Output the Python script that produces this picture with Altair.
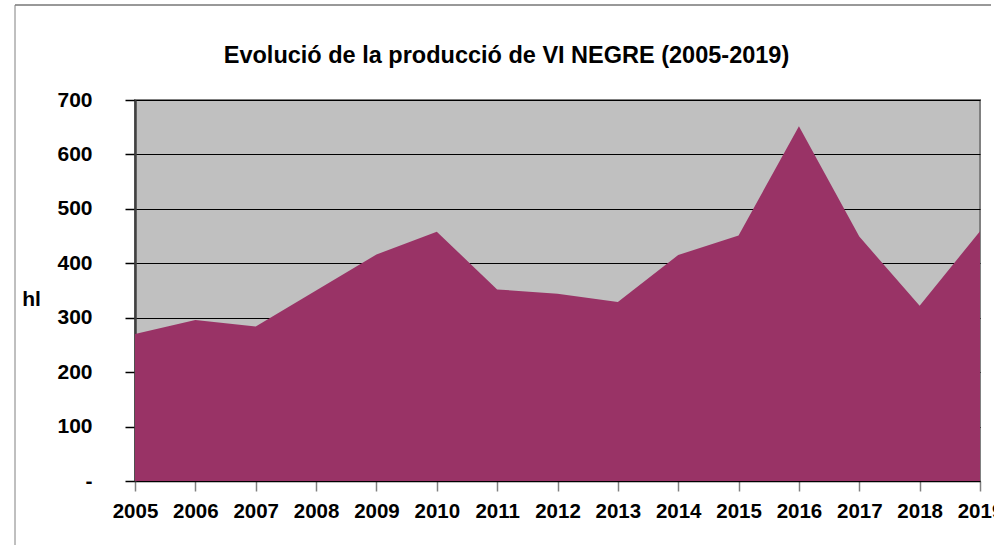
import altair as alt
import pandas as pd

years = list(range(2005, 2020))
hl = [270, 296, 284, 350, 416, 458, 352, 344, 329, 415, 451, 652, 449, 322, 459]
y_ticks = [0, 100, 200, 300, 400, 500, 600, 700]
title_text = "Evolució de la producció de VI NEGRE (2005-2019)"

df = pd.DataFrame({"any": years, "hl": hl})
one = alt.Data(values=[{"t": title_text}])

FONT = "Liberation Sans"

area = alt.Chart(df).mark_area(color="#993366", opacity=1).encode(
    x=alt.X(
        "any:Q",
        scale=alt.Scale(domain=[2005, 2019], nice=False, zero=False),
        axis=alt.Axis(
            values=years, format="d", title=None, grid=False,
            labelFont=FONT, labelFontSize=20.5, labelFontWeight="bold", labelColor="black",
            tickColor="#808080", tickSize=10, tickWidth=1.5,
            domainColor="black", domainWidth=1.5, labelPadding=10,
            labelFlush=False, labelOverlap=False,
        ),
    ),
    y=alt.Y(
        "hl:Q",
        scale=alt.Scale(domain=[0, 700], nice=False),
        axis=alt.Axis(
            values=y_ticks, title="hl", titleAngle=0,
            titleFont=FONT, titleFontSize=21, titleFontWeight="bold", titleColor="black",
            titleX=-104, titleY=199, titleAlign="center", titleBaseline="middle",
            labelExpr="datum.value == 0 ? '-' : datum.label",
            labelFont=FONT, labelFontSize=21, labelFontWeight="bold", labelColor="black",
            labelPadding=33, tickColor="black", tickSize=10, tickWidth=1.5,
            grid=True, gridColor="black", gridWidth=1.2,
            domainColor="#404040", domainWidth=2.5,
        ),
    ),
)

title = alt.Chart(one).mark_text(
    font=FONT, fontSize=23.5, fontWeight="bold", color="black",
    align="center", baseline="alphabetic",
).encode(x=alt.value(371.5), y=alt.value(-37), text="t:N")

frame_top = alt.Chart(one).mark_rule(color="#333333", strokeWidth=1).encode(
    x=alt.value(-120), x2=alt.value(856), y=alt.value(-95)
)
frame_left = alt.Chart(one).mark_rule(color="#808080", strokeWidth=1).encode(
    x=alt.value(-120), y=alt.value(-95), y2=alt.value(445)
)

chart = alt.layer(area, title, frame_top, frame_left).properties(
    width=845,
    height=381,
    autosize=alt.AutoSizeParams(type="none"),
    padding={"left": 135, "top": 100, "right": 14, "bottom": 64},
    background="white",
).configure_view(
    fill="#C0C0C0", stroke="#808080", strokeWidth=2
)

chart.save("out.html", embed_options={"renderer": "svg", "actions": False})
